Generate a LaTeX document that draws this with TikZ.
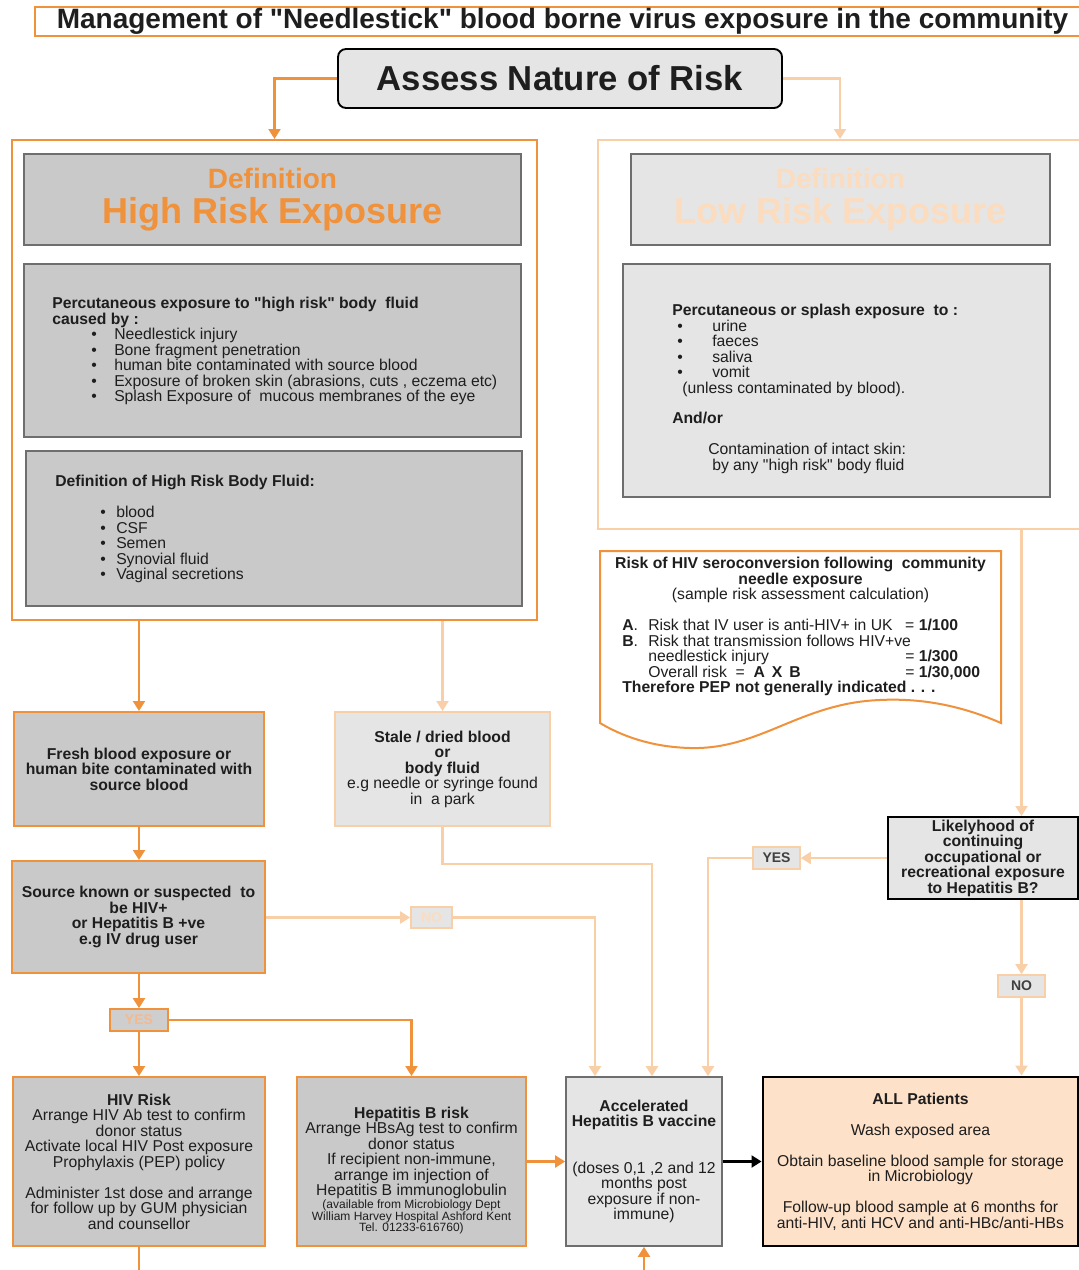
\documentclass[tikz,border=0pt]{standalone}
\usepackage{fontspec}
\setmainfont{Liberation Sans}[Ligatures=TeXOff]
\usetikzlibrary{arrows.meta,calc}
\definecolor{dor}{HTML}{F0913C}
\definecolor{lor}{HTML}{F9CFA8}
\definecolor{vlor}{HTML}{FCDCBE}
\definecolor{yor}{HTML}{F6B98C}
\definecolor{dgr}{HTML}{C9C9C9}
\definecolor{lgr}{HTML}{E5E5E5}
\definecolor{bgr}{HTML}{6E6E6E}
\definecolor{peach}{HTML}{FDE1C9}
\definecolor{ink}{HTML}{1E1E1E}
\newcommand\bodyf{\fontsize{11.8pt}{11.6pt}\selectfont}
\newcommand\smallf{\fontsize{9pt}{8.6pt}\selectfont}
\begin{document}
\begin{tikzpicture}[x=0.75pt,y=-0.75pt,
  sz/.style 2 args={minimum width={#1*0.75pt}, minimum height={#2*0.75pt}},
  dbox/.style={draw=dor, line width=1.5pt, fill=dgr, inner sep=0pt, align=center, text=ink, font=\bodyf},
  lbox/.style={draw=lor, line width=1.5pt, fill=lgr, inner sep=0pt, align=center, text=ink, font=\bodyf},
  gbox/.style={draw=bgr, line width=1pt, fill=dgr, inner sep=0pt, align=center},
  frameD/.style={draw=dor, line width=1.5pt, fill=white, inner sep=0pt},
  frameL/.style={draw=lor, line width=1.5pt, fill=white, inner sep=0pt},
  txt/.style={inner sep=0pt, align=left, font=\bodyf, text=ink},
  tip/.style={-{Triangle[width=9pt,length=7.5pt]}},
  darr/.style={draw=dor, line width=1.6pt, tip},
  larr/.style={draw=lor, line width=1.6pt, tip},
  dln/.style={draw=dor, line width=1.6pt},
  lln/.style={draw=lor, line width=1.6pt},
  barr/.style={draw=black, line width=1.6pt, tip},
  lab/.style={inner sep=0pt, font=\fontsize{10.5pt}{11pt}\selectfont\bfseries, line width=1.3pt},
  deftitle/.style={font=\fontsize{27pt}{26.5pt}\selectfont\bfseries}
]
\fill[white] (0,0) rectangle (1078,1270);
\useasboundingbox (0,0) rectangle (1078,1270);

% title
\node[draw=dor, line width=1.3pt, fill=white, sz={1055}{29}, inner sep=0pt,
  font=\fontsize{21pt}{22pt}\selectfont\bfseries, text=ink] (title) at (562.5,21.5)
  {Management of "Needlestick" blood borne virus exposure in the community};

% assess
\node[draw=black, line width=1.4pt, fill=lgr, rounded corners=6pt, sz={444}{59}, inner sep=0pt,
  font=\fontsize{26pt}{28pt}\selectfont\bfseries, text=ink] (assess) at (560,78.5) {Assess Nature of Risk};

% high risk frame
\node[frameD, sz={525}{480}] (high) at (274.5,380) {};
\node[gbox, sz={497}{91}, text=dor, deftitle] (hdef) at (272.5,199.5)
  {{\fontsize{21pt}{26.5pt}\selectfont Definition}\\High Risk Exposure};
\node[gbox, sz={497}{173}] (hlist) at (272.5,350.5) {};
\node[gbox, sz={496}{155}] (hfluid) at (274,528.5) {};
\node[txt, anchor=north west] (hlt) at (52,297)
 {\textbf{Percutaneous exposure to "high risk" body \ fluid}\\
  \textbf{caused by :}\\
  \hspace*{29.25pt}\makebox[17.25pt][l]{\textbullet}Needlestick injury\\
  \hspace*{29.25pt}\makebox[17.25pt][l]{\textbullet}Bone fragment penetration\\
  \hspace*{29.25pt}\makebox[17.25pt][l]{\textbullet}human bite contaminated with source blood\\
  \hspace*{29.25pt}\makebox[17.25pt][l]{\textbullet}Exposure of broken skin (abrasions, cuts , eczema etc)\\
  \hspace*{29.25pt}\makebox[17.25pt][l]{\textbullet}Splash Exposure of \ mucous membranes of the eye};
\node[txt, anchor=north west] (hft) at (55,475)
 {\textbf{Definition of High Risk Body Fluid:}\\[11.6pt]
  \hspace*{33.75pt}\makebox[12pt][l]{\textbullet}blood\\
  \hspace*{33.75pt}\makebox[12pt][l]{\textbullet}CSF\\
  \hspace*{33.75pt}\makebox[12pt][l]{\textbullet}Semen\\
  \hspace*{33.75pt}\makebox[12pt][l]{\textbullet}Synovial fluid\\
  \hspace*{33.75pt}\makebox[12pt][l]{\textbullet}Vaginal secretions};

% low risk frame
\node[frameL, sz={484}{389}] (low) at (840,334.5) {};
\node[gbox, fill=lgr, sz={419}{91}, text=vlor, deftitle] (ldef) at (840.5,199.5)
  {{\fontsize{21pt}{26.5pt}\selectfont Definition}\\Low Risk Exposure};
\node[gbox, fill=lgr, sz={427}{233}] (llist) at (836.5,380.5) {};
\node[txt, anchor=north west] (llt) at (672,304)
 {\textbf{Percutaneous or splash exposure \ to :}\\
  \hspace*{3.75pt}\makebox[26.25pt][l]{\textbullet}urine\\
  \hspace*{3.75pt}\makebox[26.25pt][l]{\textbullet}faeces\\
  \hspace*{3.75pt}\makebox[26.25pt][l]{\textbullet}saliva\\
  \hspace*{3.75pt}\makebox[26.25pt][l]{\textbullet}vomit\\
  \hspace*{7.5pt}(unless contaminated by blood).\\[11.6pt]
  \textbf{And/or}\\[11.6pt]
  \hspace*{27pt}Contamination of intact skin:\\
  \hspace*{30pt}by any "high risk" body fluid};

% risk calculation document shape
\coordinate (rtl) at (600,551);
\coordinate (rtr) at (1001,551);
\coordinate (rbr) at (1001,723);
\coordinate (rbl) at (600,723);
\draw[draw=dor, line width=1.5pt, fill=white] (rtl) -- (rtr) -- (rbr)
  .. controls (960,705) and (920,698) .. (880,700)
  .. controls (800,703) and (760,750) .. (690,748)
  .. controls (650,747) and (620,735) .. (rbl) -- cycle;
\node[inner sep=0pt, align=center, font=\bodyf, text=ink, anchor=north] (rhead) at (800.5,557)
 {\textbf{Risk of HIV seroconversion following \ community}\\
  \textbf{needle exposure}\\
  (sample risk assessment calculation)};
\node[txt, anchor=north west] (calc) at (622,619)
 {\makebox[19.5pt][l]{\textbf{A}.}\makebox[192.75pt][l]{Risk that IV user is anti-HIV+ in UK}= \textbf{1/100}\\
  \makebox[19.5pt][l]{\textbf{B}.}Risk that transmission follows HIV+ve\\
  \hspace*{19.5pt}\makebox[192.75pt][l]{needlestick injury}= \textbf{1/300}\\
  \hspace*{19.5pt}\makebox[192.75pt][l]{Overall risk \ = \ \textbf{A \,X \,B}}= \textbf{1/30,000}\\
  \textbf{Therefore PEP not generally indicated . . .}};

% middle boxes
\node[dbox, sz={250}{114}, font=\bodyf\bfseries] (fresh) at (139,769)
 {Fresh blood exposure or\\human bite contaminated with\\source blood};
\node[lbox, sz={215}{114}] (stale) at (442.5,769)
 {\textbf{Stale / dried blood}\\\textbf{or}\\\textbf{body fluid}\\e.g needle or syringe found\\in \ a park};
\node[dbox, sz={253}{112}, font=\bodyf\bfseries] (source) at (138.5,917)
 {Source known or suspected \ to\\be HIV+\\or Hepatitis B +ve\\e.g IV drug user};
\node[draw=black, line width=1.5pt, fill=lgr, sz={190}{82}, inner sep=0pt, align=center,
  font=\bodyf\bfseries, text=ink] (likely) at (983,858)
 {Likelyhood of\\continuing\\occupational or\\recreational exposure\\to Hepatitis B?};

% bottom boxes
\node[dbox, sz={252}{169}] (hiv) at (139,1161.5)
 {\textbf{HIV Risk}\\Arrange HIV Ab test to confirm\\donor status\\Activate local HIV Post exposure\\Prophylaxis (PEP) policy\\[11.6pt]
  Administer 1st dose and arrange\\for follow up by GUM physician\\and counsellor};
\node[dbox, sz={229}{169}] (hepb) at (411.5,1161.5)
 {\rule{0pt}{22pt}\textbf{Hepatitis B risk}\\Arrange HBsAg test to confirm\\donor status\\If recipient non-immune,\\arrange im injection of\\Hepatitis B immunoglobulin\\[-1.9pt]
  \smallf(available from Microbiology Dept\\[-3pt]\smallf William Harvey Hospital Ashford Kent\\[-3pt]\smallf Tel. 01233-616760)};
\node[draw=bgr, line width=1.3pt, fill=lgr, sz={156}{169}, inner sep=0pt, align=center, font=\bodyf, text=ink] (accel) at (644,1161.5)
 {\textbf{Accelerated}\\\textbf{Hepatitis B vaccine}\\[23.2pt]
  (doses 0,1 ,2 and 12\\months post\\exposure if non-\\immune)};
\node[draw=black, line width=2.2pt, fill=peach, sz={315}{169}, inner sep=0pt, align=center, font=\bodyf, text=ink] (all) at (920.5,1161.5)
 {\textbf{ALL Patients}\\[11.6pt]Wash exposed area\\[11.6pt]
  Obtain baseline blood sample for storage\\in Microbiology\\[11.6pt]
  Follow-up blood sample at 6 months for\\anti-HIV, anti HCV and anti-HBc/anti-HBs};

% labels
\node[lab, draw=lor, fill=lgr, text=vlor, sz={41}{21}] (noL) at (431.5,917.5) {NO};
\node[lab, draw=lor, fill=lgr, text=ink!85, sz={47}{22}] (yesR) at (776.5,858) {YES};
\node[lab, draw=lor, fill=lgr, text=ink!85, sz={47}{22}] (noR) at (1021.5,986) {NO};
\node[lab, draw=dor, fill=dgr!90, text=yor, sz={58}{22}] (yesL) at (139,1020) {YES};

% accel entry points
\coordinate (a1) at ([xshift=-36.75pt]accel.north);
\coordinate (a2) at ([xshift=6pt]accel.north);
\coordinate (a3) at ([xshift=48pt]accel.north);
\coordinate (hivend) at (139,1280);
\coordinate (accin) at (644,1280);

% connectors
\draw[darr] (assess.west) -| (high.north);
\draw[larr] (assess.east) -| (low.north);
\draw[darr] (high.south -| fresh.north) -- (fresh.north);
\draw[larr] (high.south -| stale.north) -- (stale.north);
\draw[larr] (low.south -| noR.north) -- (likely.north -| noR.north);
\draw[darr] (fresh.south) -- (fresh.south |- source.north);
\draw[larr] (source.east |- noL.west) -- (noL.west);
\draw[larr] (noL.east) -| (a1);
\draw[larr] (stale.south) -- ++(0,37) -| (a2);
\draw[larr] (likely.west) -- (yesR.east);
\draw[larr] (yesR.west) -| (a3);
\draw[larr] (likely.south -| noR.north) -- (noR.north);
\draw[larr] (noR.south) -- (noR.south |- all.north);
\draw[darr] (source.south -| yesL.north) -- (yesL.north);
\draw[darr] (yesL.east) -| (hepb.north);
\draw[darr] (yesL.south) -- (yesL.south |- hiv.north);
\draw[darr] (hepb.east) -- (accel.west);
\draw[barr] (accel.east) -- (all.west);
\draw[dln] (hiv.south) -- (hivend);
\draw[darr] (accin) -- (accel.south);
\end{tikzpicture}
\end{document}
